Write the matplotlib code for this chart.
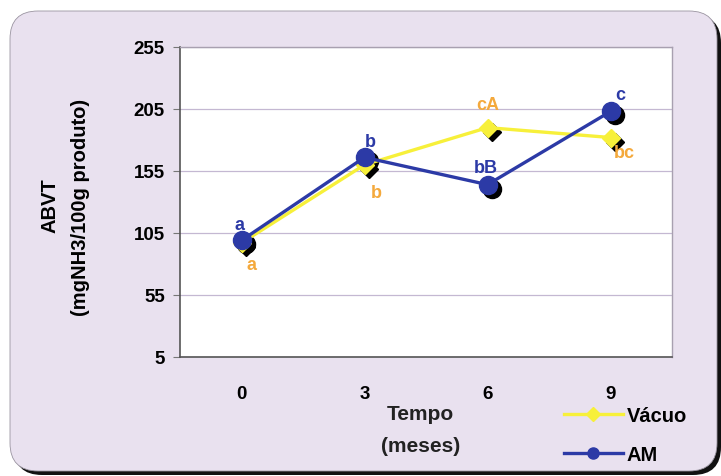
import matplotlib.pyplot as plt
import matplotlib.transforms as mtransforms
from matplotlib.patches import FancyBboxPatch
from matplotlib.lines import Line2D

plt.rcParams['font.family'] = ['Liberation Sans', 'DejaVu Sans']
plt.rcParams['font.weight'] = 'bold'

meses = ['0', '3', '6', '9']
vacuo = [97, 160, 190, 182]
am = [99, 166, 144, 203]
letras_vacuo = ['a', 'b', 'cA', 'bc']
letras_am = ['a', 'b', 'bB', 'c']
yticks = [5, 55, 105, 155, 205, 255]

AMARELO = '#F7F03A'
AZUL = '#2C3AA6'
LARANJA = '#F4A93C'
LILAS = '#E9E1EF'

fig = plt.figure(figsize=(7.21, 4.77), dpi=100)
fig.patch.set_facecolor('white')

# fundo arredondado com sombra
sombra = FancyBboxPatch((0.14, 0.01), 7.07, 4.60,
                        boxstyle='round,pad=0,rounding_size=0.28',
                        transform=fig.dpi_scale_trans, fc='#111111', ec='none', zorder=0)
fundo = FancyBboxPatch((0.10, 0.05), 7.07, 4.60,
                       boxstyle='round,pad=0,rounding_size=0.28',
                       transform=fig.dpi_scale_trans, fc=LILAS, ec='#9A94A0', lw=0.6, zorder=1)
fig.add_artist(sombra)
fig.add_artist(fundo)

ax = fig.add_axes([180 / 721, 1 - 358 / 477, 492 / 721, 310 / 477])
ax.set_zorder(2)
ax.set_facecolor('white')

x = list(range(len(meses)))
ax.set_xlim(-0.5, len(meses) - 0.5)
ax.set_ylim(5, 255)
ax.set_yticks(yticks)
ax.set_xticks(x)
ax.set_xticklabels(meses)
ax.tick_params(axis='y', length=5, color='#777777', labelsize=13.5, pad=6)
ax.tick_params(axis='x', length=0, labelsize=13.5, pad=20)
for lbl in ax.get_xticklabels() + ax.get_yticklabels():
    lbl.set_fontweight('bold')

ax.grid(axis='y', color='#C4B8D2', lw=0.9)
ax.set_axisbelow(True)
for s in ['top', 'right']:
    ax.spines[s].set_color('#A8A0B0')
    ax.spines[s].set_linewidth(1.0)
for s in ['left', 'bottom']:
    ax.spines[s].set_color('#555555')
    ax.spines[s].set_linewidth(1.2)

# sombras dos marcadores
sh = mtransforms.offset_copy(ax.transData, fig=fig, x=4, y=-4, units='dots')
ax.plot(x, vacuo, ls='none', marker='D', ms=9, color='black', transform=sh, zorder=3)
ax.plot(x, am, ls='none', marker='o', ms=13, color='black', transform=sh, zorder=3)

ax.plot(x, vacuo, color=AMARELO, lw=2.4, marker='D', ms=9, mec=AMARELO, zorder=4)
ax.plot(x, am, color=AZUL, lw=2.4, marker='o', ms=13, mec=AZUL, zorder=5)

# letras de significancia
off_vacuo = [(10, -22), (12, -28), (0, 23), (14, -15)]
off_am = [(-2, 16), (6, 16), (-2, 17), (10, 17)]
for i in x:
    ax.annotate(letras_vacuo[i], (i, vacuo[i]), xytext=off_vacuo[i], textcoords='offset pixels',
                ha='center', va='center', color=LARANJA, fontsize=13, fontweight='bold', zorder=6)
    ax.annotate(letras_am[i], (i, am[i]), xytext=off_am[i], textcoords='offset pixels',
                ha='center', va='center', color=AZUL, fontsize=13, fontweight='bold', zorder=6)

# titulos dos eixos
fig.text(50 / 721, 1 - 206 / 477, 'ABVT', rotation=90, ha='center', va='center',
         fontsize=14.5, fontweight='bold', zorder=3)
fig.text(80 / 721, 1 - 207 / 477, '(mgNH3/100g produto)', rotation=90, ha='center', va='center',
         fontsize=14.5, fontweight='bold', zorder=3)
fig.text(420 / 721, 1 - 415 / 477, 'Tempo', ha='center', va='center',
         fontsize=15, fontweight='bold', color='#222222', zorder=3)
fig.text(421 / 721, 1 - 447 / 477, '(meses)', ha='center', va='center',
         fontsize=15, fontweight='bold', color='#222222', zorder=3)

handles = [Line2D([], [], color=AMARELO, lw=2.4, marker='D', ms=7),
           Line2D([], [], color=AZUL, lw=2.4, marker='o', ms=8)]
leg = fig.legend(handles, ['Vácuo', 'AM'], loc='center left',
                 bbox_to_anchor=(546 / 721, 1 - 436 / 477), frameon=False,
                 prop={'size': 14.5, 'weight': 'bold'}, handlelength=2.9,
                 handletextpad=0.2, labelspacing=0.95)
leg.set_zorder(4)

fig.savefig('out.png', dpi=100, facecolor='white')
